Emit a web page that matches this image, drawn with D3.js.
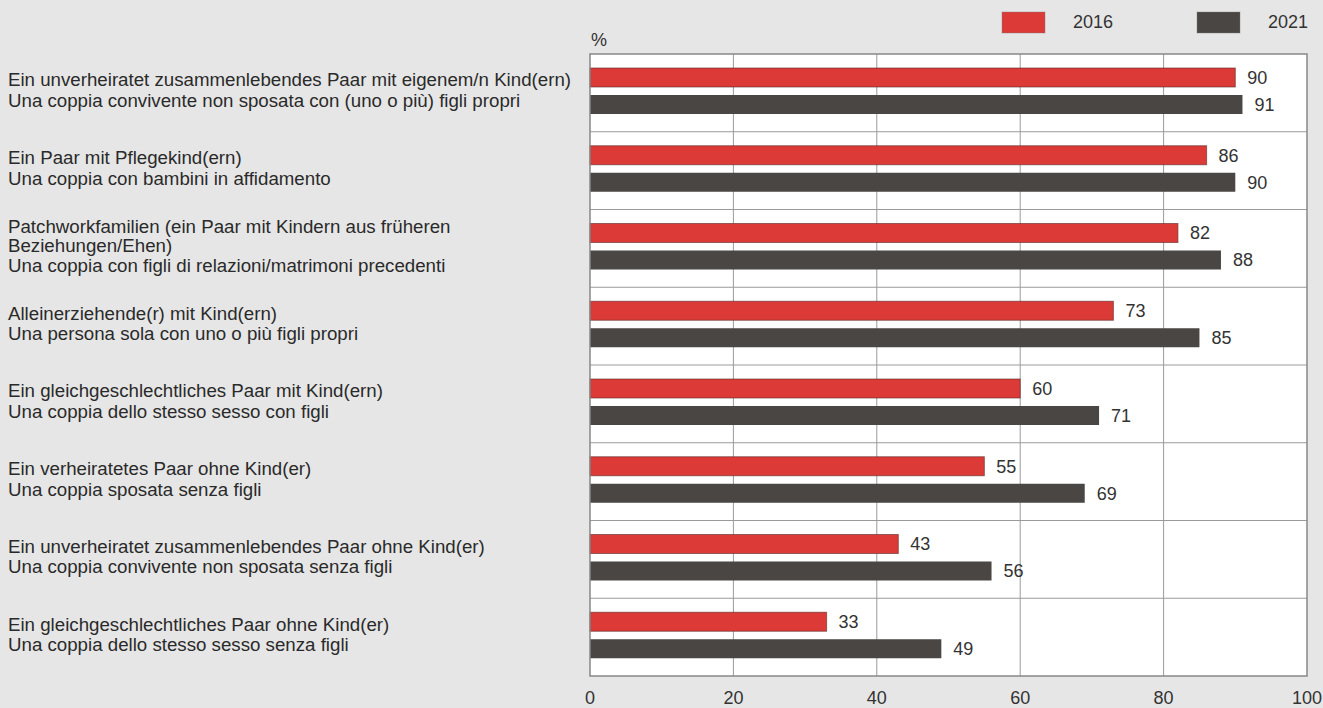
<!DOCTYPE html>
<html><head><meta charset="utf-8">
<script src="https://cdn.jsdelivr.net/npm/d3@7"></script>
<style>
html,body{margin:0;padding:0;background:#e6e6e6;}
svg{display:block;font-family:"Liberation Sans",Arial,sans-serif;}
</style></head><body>
<svg id="c" width="1323" height="708"></svg>
<script>
const categories = [
  ["Ein unverheiratet zusammenlebendes Paar mit eigenem/n Kind(ern)","Una coppia convivente non sposata con (uno o più) figli propri"],
  ["Ein Paar mit Pflegekind(ern)","Una coppia con bambini in affidamento"],
  ["Patchworkfamilien (ein Paar mit Kindern aus früheren","Beziehungen/Ehen)","Una coppia con figli di relazioni/matrimoni precedenti"],
  ["Alleinerziehende(r) mit Kind(ern)","Una persona sola con uno o più figli propri"],
  ["Ein gleichgeschlechtliches Paar mit Kind(ern)","Una coppia dello stesso sesso con figli"],
  ["Ein verheiratetes Paar ohne Kind(er)","Una coppia sposata senza figli"],
  ["Ein unverheiratet zusammenlebendes Paar ohne Kind(er)","Una coppia convivente non sposata senza figli"],
  ["Ein gleichgeschlechtliches Paar ohne Kind(er)","Una coppia dello stesso sesso senza figli"]
];
const values2016 = [90, 86, 82, 73, 60, 55, 43, 33];
const values2021 = [91, 90, 88, 85, 71, 69, 56, 49];
const seriesNames = ["2016", "2021"];
const seriesColors = ["#dc3a37", "#4a4644"];
const xTicks = [0, 20, 40, 60, 80, 100];

const svg = d3.select("#c");
const L = 590, R = 1307, T = 54, B = 676;
const x = d3.scaleLinear().domain([0,100]).range([L,R]);
const y = d3.scaleBand().domain(d3.range(categories.length)).range([T,B]).padding(0);
const bw = y.bandwidth();

svg.append("rect").attr("x",L).attr("y",T).attr("width",R-L).attr("height",B-T).attr("fill","#fff");

svg.append("g").selectAll("line").data(xTicks.slice(1,-1)).join("line")
  .attr("x1",d=>x(d)).attr("x2",d=>x(d)).attr("y1",T).attr("y2",B)
  .attr("stroke","#9a9a9a").attr("stroke-width",1);
svg.append("g").selectAll("line").data(d3.range(1,categories.length)).join("line")
  .attr("x1",L).attr("x2",R).attr("y1",d=>y(d)).attr("y2",d=>y(d))
  .attr("stroke","#9a9a9a").attr("stroke-width",1);

const series = [values2016, values2021];
const offs = [14, 41], bh = 19;
series.forEach((vals,si)=>{
  const g = svg.append("g");
  g.selectAll("rect").data(vals).join("rect")
    .attr("x",x(0)).attr("y",(d,i)=>y(i)+offs[si]*bw/77.75)
    .attr("width",d=>x(d)-x(0)).attr("height",bh)
    .attr("fill",seriesColors[si]).attr("stroke","#5a2a28").attr("stroke-opacity",si?0:0.6).attr("stroke-width",1);
  g.selectAll("text").data(vals).join("text")
    .attr("x",d=>x(d)+12).attr("y",(d,i)=>y(i)+offs[si]*bw/77.75+bh/2)
    .attr("dy","0.36em").attr("font-size",18).attr("fill","#333")
    .text(d=>d);
});

svg.append("rect").attr("x",L).attr("y",T).attr("width",R-L).attr("height",B-T)
  .attr("fill","none").attr("stroke","#888").attr("stroke-width",1.5);

const lh = 20.5;
categories.forEach((lines,i)=>{
  const cy = y(i)+bw/2-3;
  const t = svg.append("text").attr("font-size",18.7).attr("fill","#2a2a2a");
  lines.forEach((s,j)=>{
    t.append("tspan").attr("x",8).attr("y",cy+(j-(lines.length-1)/2)*(lines.length>2?19.5:lh)).attr("dy","0.36em").text(s);
  });
});

svg.append("g").selectAll("text").data(xTicks).join("text")
  .attr("x",d=>x(d)).attr("y",698).attr("dy","0.36em").attr("text-anchor","middle")
  .attr("font-size",18).attr("fill","#333").text(d=>d);

svg.append("text").attr("x",591).attr("y",40).attr("dy","0.36em").attr("font-size",18).attr("fill","#333").text("%");

const legX = [1002, 1197];
seriesNames.forEach((n,i)=>{
  svg.append("rect").attr("x",legX[i]).attr("y",12).attr("width",43).attr("height",21)
    .attr("fill",seriesColors[i]).attr("stroke","#777").attr("stroke-opacity",0.4);
  svg.append("text").attr("x",legX[i]+71).attr("y",22).attr("dy","0.36em").attr("font-size",18).attr("fill","#333").text(n);
});
</script>
</body></html>
